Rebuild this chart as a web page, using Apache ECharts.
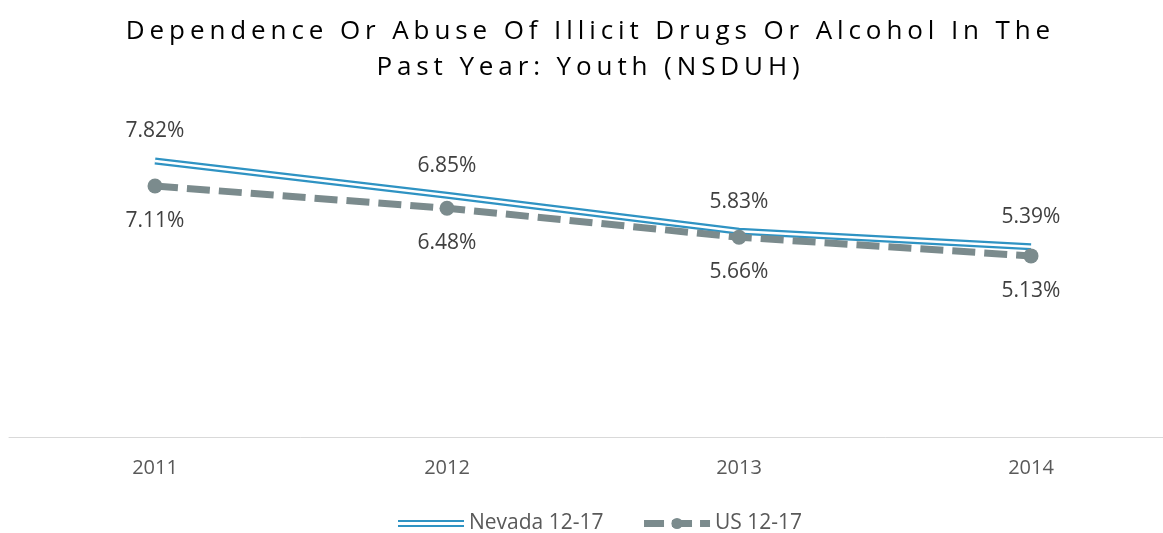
<!DOCTYPE html>
<html>
<head>
<meta charset="utf-8">
<script src="https://cdn.jsdelivr.net/npm/echarts@6/dist/echarts.min.js"></script>
<style>
  html, body { margin: 0; padding: 0; background: #fff; }
  .wrap { position: relative; width: 1163px; height: 533px; overflow: hidden; }
  .title {
    position: absolute; left: 9px; top: 11px; width: 1163px;
    text-align: center; font-family: 'Open Sans', sans-serif; font-size: 26px;
    line-height: 36px; color: #000; letter-spacing: 4.9px;
  }
  #chart { width: 1190px; height: 533px; }
</style>
</head>
<body>
<div class="wrap">
  <div id="chart"></div>
  <div class="title">Dependence Or Abuse Of Illicit Drugs Or Alcohol In The<br>Past Year: Youth (NSDUH)</div>
</div>
<script>
const years = ['2011', '2012', '2013', '2014']
const nevada = [7.82, 6.85, 5.83, 5.39]
const us = [7.11, 6.48, 5.66, 5.13]

const blue = '#2f93c3'
const grey = '#7b8b8d'
const font = "'Open Sans', sans-serif"

const chart = echarts.init(document.getElementById('chart'))
const option = {
  animation: false,
  grid: { left: 9, width: 1168, top: 84, bottom: 96 },
  legend: {
    top: 508,
    left: 393,
    itemGap: 37,
    itemWidth: 66,
    itemHeight: 14,
    textStyle: { fontFamily: font, fontSize: 21, color: '#595959' },
    data: [
      { name: 'Nevada 12-17', icon: 'path://M0,0H66V2H0Z M0,5H66V7H0Z' },
      { name: 'US 12-17', lineStyle: { width: 7, type: [20, 8] } }
    ]
  },
  xAxis: {
    type: 'category',
    data: years,
    axisLine: { lineStyle: { color: '#d9d9d9', width: 1 } },
    axisTick: { show: false },
    axisLabel: { fontFamily: font, fontSize: 20, color: '#595959', margin: 21 }
  },
  yAxis: {
    type: 'value',
    min: 0,
    max: 10,
    show: false,
    splitLine: { show: false }
  },
  series: [
    {
      name: 'Nevada 12-17',
      type: 'line',
      data: nevada,
      symbol: 'circle',
      symbolSize: 0,
      color: blue,
      lineStyle: { color: blue, width: 7 },
      label: {
        show: true, position: 'top', distance: 19,
        formatter: p => p.value.toFixed(2) + '%',
        fontFamily: font, fontSize: 21, color: '#404040'
      },
      z: 2
    },
    {
      name: 'nevada-gap',
      type: 'line',
      data: nevada,
      symbol: 'none',
      lineStyle: { color: '#fff', width: 2.5 },
      z: 3
    },
    {
      name: 'US 12-17',
      type: 'line',
      data: us,
      symbol: 'circle',
      symbolSize: 15,
      color: grey,
      itemStyle: { color: grey },
      lineStyle: { color: grey, width: 7, type: [23, 9] },
      label: {
        show: true, position: 'bottom', distance: 17,
        formatter: p => p.value.toFixed(2) + '%',
        fontFamily: font, fontSize: 21, color: '#404040'
      },
      z: 4
    }
  ]
}
chart.setOption(option)
</script>
</body>
</html>
